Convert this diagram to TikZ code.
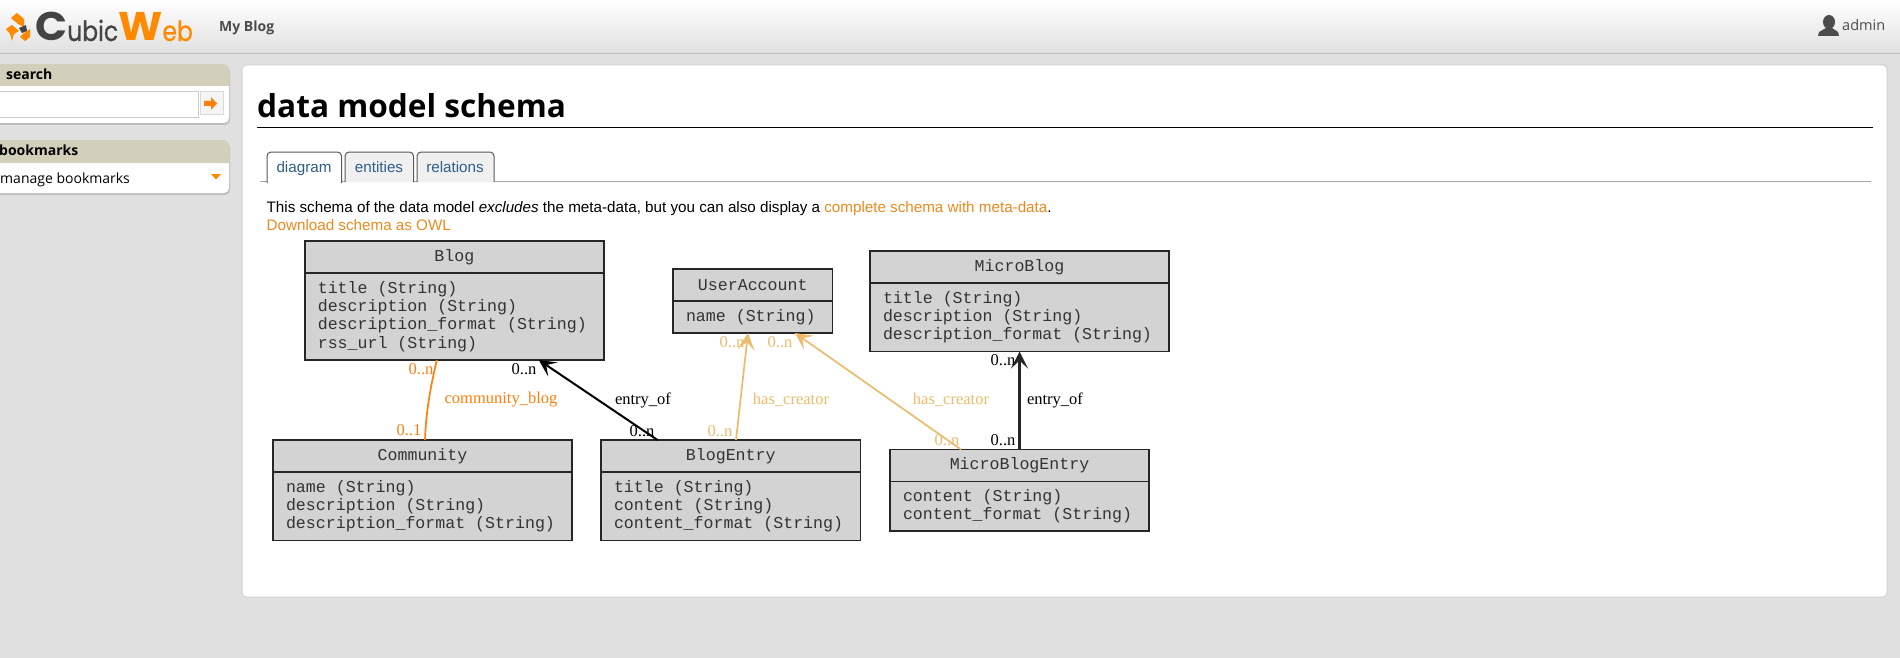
\documentclass[tikz,border=0pt]{standalone}
\usepackage{fontspec}
\usepackage{tikz}
\usetikzlibrary{arrows.meta,positioning}
\setmainfont{Liberation Sans}
\newfontfamily\uifont{Open Sans}
\newfontfamily\boxfont{Liberation Mono}
\newfontfamily\graphfont{Liberation Serif}
\newfontfamily\logobig[FakeStretch=1.05]{Poppins}
\newfontfamily\logosmall[FakeStretch=0.84,FakeBold=0.6]{Poppins}
\definecolor{pagegrey}{HTML}{E0E0E0}
\definecolor{sidehead}{HTML}{D2D0BA}
\definecolor{boxgrey}{HTML}{D3D3D3}
\definecolor{linkorange}{HTML}{EE8A1E}
\definecolor{logoorange}{HTML}{FF8A00}
\definecolor{logodark}{HTML}{444444}
\definecolor{tabblue}{HTML}{2E5F8C}
\definecolor{relorange}{HTML}{FF7F0E}
\definecolor{relpale}{HTML}{EDBB6B}
\tikzset{
  enthead/.style={draw=black!85,line width=1.7pt,fill=boxgrey,inner sep=0pt,outer sep=0pt,
    text=black!80,font=\boxfont\fontsize{16.6}{18.4}\selectfont},
  entbody/.style={draw=black!85,line width=1.7pt,fill=boxgrey,anchor=north,inner xsep=13pt,outer sep=0pt,
    inner ysep=0pt,align=flush left,text=black!80,font=\boxfont\fontsize{16.6}{18.3}\selectfont},
  rel/.style={line width=1.7pt,-{Stealth[length=17pt,width=17pt,inset=8pt]}},
  rellabel/.style={inner sep=0pt,font=\graphfont\fontsize{16.5}{18}\selectfont},
  tabline/.style={draw=black!65,line width=1pt},
  tabname/.style={anchor=base,inner sep=0pt,text=tabblue,font=\fontsize{15.2}{18}\selectfont},
  sidename/.style={anchor=west,inner sep=0pt,font=\uifont\fontsize{14}{17}\selectfont},
}
\begin{document}
\begin{tikzpicture}[x=1pt,y=-1pt]
    \useasboundingbox (0,0) rectangle (1900,658);
    \clip (0,0) rectangle (1900,658);
    \fill[pagegrey] (0,0) rectangle (1900,658);

    % Top bar
    \shade[top color=white,bottom color=pagegrey] (0,0) rectangle (1900,53);
    \draw[black!25,line width=1pt] (0,53.5) -- (1900,53.5);
    \fill[logoorange] (11,18) -- (17,13) -- (24,19) -- (24,27) -- (18,24) -- cycle;
    \fill[logoorange] (6,29) -- (12,25) -- (19,31) -- (14,34) -- (12,41) -- (10,34) -- cycle;
    \fill[logoorange] (24,33) -- (30,29) -- (30,37) -- (25,41) -- (20,37) -- cycle;
    \fill[logodark] (19,28) -- (26,25) -- (27,31) -- (22,33) -- cycle;
    \node[anchor=base west,inner sep=0pt,text=logodark] (logo) at (35,41)
      {\logobig\bfseries\fontsize{40}{40}\selectfont C\logosmall\mdseries\fontsize{28}{28}\selectfont ubic\logobig\bfseries\fontsize{40}{40}\selectfont\color{logoorange}W\logosmall\mdseries\fontsize{28}{28}\selectfont eb};
    \node[anchor=west,inner sep=0pt,text=black!70,font=\uifont\bfseries\fontsize{14}{17}\selectfont] (blogname) at (219,27.5) {My Blog};
    \fill[black!70] (1829,22) ellipse (6 and 7);
    \fill[black!70] (1818,36) -- (1819,32) -- (1826,28) -- (1832,28) -- (1838,32) -- (1839,36) -- cycle;
    \node[anchor=west,inner sep=0pt,text=black!70,font=\uifont\fontsize{14.5}{17}\selectfont] (username) at (1842,25.5) {admin};

    % Search box
    \fill[black!25,rounded corners=5pt] (-10,66) rectangle (230,125);
    \fill[white,rounded corners=5pt] (-10,64) rectangle (229,123);
    \fill[sidehead] (-10,86) -- (-10,64) [rounded corners=5pt] -- (229,64) [sharp corners] -- (229,86) -- cycle;
    \node[sidename,font=\uifont\bfseries\fontsize{14}{17}\selectfont] (searchtitle) at (6,74) {search};
    \draw[black!20,fill=white,line width=1pt] (-5,92) rectangle (198,118);
    \draw[black!15,fill=black!4,line width=1pt] (200,92) rectangle (223,115);
    \fill[relorange] (204,101) -- (211,101) -- (211,97) -- (217,103.5) -- (211,110) -- (211,106) -- (204,106) -- cycle;

    % Bookmarks box
    \fill[black!25,rounded corners=5pt] (-10,142) rectangle (230,195);
    \fill[white,rounded corners=5pt] (-10,140) rectangle (229,193);
    \fill[sidehead] (-10,163) -- (-10,140) [rounded corners=5pt] -- (229,140) [sharp corners] -- (229,163) -- cycle;
    \node[sidename,font=\uifont\bfseries\fontsize{14}{17}\selectfont] (marktitle) at (-1,150) {bookmarks};
    \node[sidename] (markitem) at (0,180) {manage bookmarks};
    \fill[logoorange] (211,174) -- (221,174) -- (216,179.5) -- cycle;

    % Main panel
    \draw[black!18,fill=white,line width=1pt,rounded corners=4pt] (242,65) rectangle (1887,597);
    \node[anchor=base west,inner sep=0pt,font=\uifont\bfseries\fontsize{31.6}{38}\selectfont] (pagetitle) at (257,117.5) {data model schema};
    \draw[black,line width=1pt] (257,127.3) -- (1873,127.3);

    % Tabs
    \draw[black!35,line width=1pt] (260,181.5) -- (1871,181.5);
    \draw[tabline,fill=black!6] (345,182) [rounded corners=4pt] -- (345,152) -- (413.5,152) [sharp corners] -- (413.5,182);
    \draw[tabline,fill=black!6] (417,182) [rounded corners=4pt] -- (417,152) -- (494,152) [sharp corners] -- (494,182);
    \draw[tabline,fill=white] (267,183) [rounded corners=4pt] -- (267,152) -- (341.5,152) [sharp corners] -- (341.5,183);
    \node[tabname] (tabdiagram) at (304,172) {diagram};
    \node[tabname] (tabentities) at (379,172) {entities};
    \node[tabname] (tabrelations) at (455,172) {relations};

    % Intro text
    \node[anchor=base west,inner sep=0pt,font=\fontsize{15.2}{18}\selectfont] (intro) at (266.5,212)
      {This schema of the data model \textit{excludes} the meta-data, but you can also display a \textcolor{linkorange}{complete schema with meta-data}.};
    \node[anchor=base west,inner sep=0pt,text=linkorange,font=\fontsize{15.2}{18}\selectfont] (owl) at (266.5,230) {Download schema as OWL};

    % Entities
    \node[enthead,minimum width=299pt,minimum height=32pt] (blog) at (454.3,257) {\raisebox{-1pt}{Blog}};
    \node[entbody,text width=273pt,minimum height=87pt] (blogbody) at (blog.south)
      {title (String)\\description (String)\\description\_format (String)\\rss\_url (String)};
    \node[enthead,minimum width=159.5pt,minimum height=32pt] (user) at (752.75,285) {UserAccount};
    \node[entbody,text width=133.5pt,minimum height=32pt] (userbody) at (user.south) {name (String)};
    \node[enthead,minimum width=299pt,minimum height=32pt] (micro) at (1019.5,267) {MicroBlog};
    \node[entbody,text width=273pt,minimum height=68.5pt] (microbody) at (micro.south)
      {title (String)\\description (String)\\description\_format (String)};
    \node[enthead,minimum width=299pt,minimum height=32pt] (community) at (422.5,456) {Community};
    \node[entbody,text width=273pt,minimum height=68.5pt] (communitybody) at (community.south)
      {name (String)\\description (String)\\description\_format (String)};
    \node[enthead,minimum width=259.5pt,minimum height=32pt] (entry) at (730.75,456) {BlogEntry};
    \node[entbody,text width=233.5pt,minimum height=68.5pt] (entrybody) at (entry.south)
      {title (String)\\content (String)\\content\_format (String)};
    \node[enthead,minimum width=259pt,minimum height=32pt] (microentry) at (1019.5,465.5) {MicroBlogEntry};
    \node[entbody,text width=233pt,minimum height=49.5pt] (microentrybody) at (microentry.south)
      {content (String)\\content\_format (String)};

    % Ends of the relations
    \coordinate (cbblog) at ([xshift=132pt]blogbody.south west);
    \coordinate (cbcomm) at ([xshift=152pt]community.north west);
    \coordinate (eoblog) at ([xshift=234pt]blogbody.south west);
    \coordinate (eoentry) at ([xshift=56.5pt]entry.north west);
    \coordinate (hcuser) at ([xshift=75pt]userbody.south west);
    \coordinate (hcentry) at ([xshift=135pt]entry.north west);
    \coordinate (hcuserb) at ([xshift=122pt]userbody.south west);
    \coordinate (hcmicro) at ([xshift=71pt]microentry.north west);

    % Relations
    \draw[line width=1.7pt,relorange] (cbcomm) .. controls (426,410) and (431,385) .. (cbblog);
    \draw[rel,black,line width=2pt] (eoentry) -- (eoblog);
    \draw[rel,relpale] (hcentry) -- (hcuser);
    \draw[rel,relpale] (hcmicro) -- (hcuserb);
    \draw[rel,black!85,line width=2.4pt] (microentry.north) -- (microbody.south);

    % Labels
    \node[rellabel,text=relorange] (cbname) at (501,400) {community\_blog};
    \node[rellabel,text=relorange] (cbn) at (421,369) {0..n};
    \node[rellabel,text=relorange] (cbone) at (409,430) {0..1};
    \node[rellabel] (eoname) at (643,400) {entry\_of};
    \node[rellabel] (eon) at (524,369) {0..n};
    \node[rellabel] (eom) at (642,431) {0..n};
    \node[rellabel,text=relpale] (hcname) at (791,400) {has\_creator};
    \node[rellabel,text=relpale] (hcn) at (732,342) {0..n};
    \node[rellabel,text=relpale] (hcm) at (720,431) {0..n};
    \node[rellabel,text=relpale] (hcnameb) at (951,400) {has\_creator};
    \node[rellabel,text=relpale] (hcnb) at (780,342) {0..n};
    \node[rellabel,text=relpale] (hcmb) at (947,440) {0..n};
    \node[rellabel] (eonameb) at (1055,400) {entry\_of};
    \node[rellabel] (eonb) at (1003,360) {0..n};
    \node[rellabel] (eomb) at (1003,440) {0..n};
\end{tikzpicture}
\end{document}
